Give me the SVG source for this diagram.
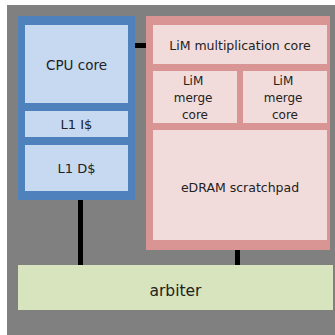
<svg xmlns="http://www.w3.org/2000/svg" width="335" height="335" viewBox="0 0 335 335">
  <style>
    .cpu-frame { fill: #4f81bd; }
    .cpu-part { fill: #c6d9f1; }
    .lim-frame { fill: #d99594; }
    .lim-part { fill: #f2dcdb; }
    .arb { fill: #d7e4bd; }
    .label { font-family: "DejaVu Sans", Verdana, sans-serif; fill: #222; text-anchor: middle; }
    .wire { stroke: #000; stroke-width: 5; fill: none; }
  </style>

  <!-- chip background -->
  <rect x="0" y="0" width="335" height="335" fill="#ffffff"/>
  <rect x="7" y="5" width="328" height="330" fill="#808080"/>

  <!-- wires between blocks -->
  <g id="connectors">
    <line class="wire" x1="135" y1="45.5" x2="146" y2="45.5"/>
    <line class="wire" x1="80.5" y1="200" x2="80.5" y2="265"/>
    <line class="wire" x1="237.5" y1="250" x2="237.5" y2="265"/>
  </g>

  <!-- processor tile -->
  <g id="cpu">
    <rect class="cpu-frame" x="18" y="16" width="117" height="184"/>
    <g id="cpu-core">
      <rect class="cpu-part" x="25" y="25" width="103" height="78"/>
      <text class="label" x="76.5" y="70" font-size="13.5">CPU core</text>
    </g>
    <g id="l1-icache">
      <rect class="cpu-part" x="25" y="111" width="103" height="26"/>
      <text class="label" x="76.5" y="129" font-size="13">L1 I$</text>
    </g>
    <g id="l1-dcache">
      <rect class="cpu-part" x="25" y="145" width="103" height="46"/>
      <text class="label" x="76.5" y="173" font-size="13">L1 D$</text>
    </g>
  </g>

  <!-- logic-in-memory tile -->
  <g id="lim">
    <rect class="lim-frame" x="146" y="16" width="184" height="234"/>
    <g id="lim-mult">
      <rect class="lim-part" x="153" y="25" width="174" height="39"/>
      <text class="label" x="240" y="50" font-size="12.5">LiM multiplication core</text>
    </g>
    <g id="lim-merge-1">
      <rect class="lim-part" x="153" y="71" width="84" height="52"/>
      <text class="label" x="195" font-size="12">
        <tspan x="195" y="85">LiM</tspan>
        <tspan x="195" y="102">merge</tspan>
        <tspan x="195" y="119">core</tspan>
      </text>
    </g>
    <g id="lim-merge-2">
      <rect class="lim-part" x="243" y="71" width="84" height="52"/>
      <text class="label" x="285" font-size="12">
        <tspan x="285" y="85">LiM</tspan>
        <tspan x="285" y="102">merge</tspan>
        <tspan x="285" y="119">core</tspan>
      </text>
    </g>
    <g id="edram">
      <rect class="lim-part" x="153" y="130" width="174" height="110"/>
      <text class="label" x="240" y="191.5" font-size="12.5">eDRAM scratchpad</text>
    </g>
  </g>

  <!-- shared arbiter -->
  <g id="arbiter">
    <rect class="arb" x="18" y="265" width="315" height="45"/>
    <text class="label" x="175.5" y="296" font-size="15.5">arbiter</text>
  </g>
</svg>
